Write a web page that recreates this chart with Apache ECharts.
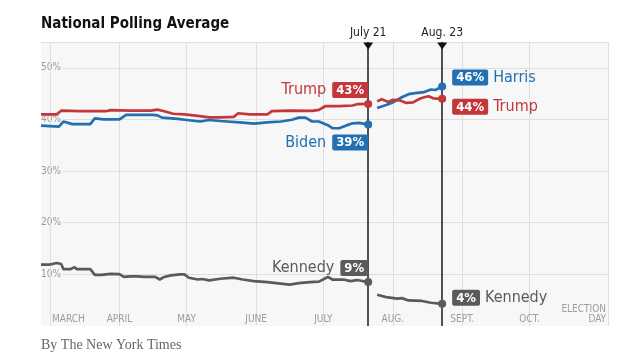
<!DOCTYPE html>
<html>
<head>
<meta charset="utf-8">
<script src="https://cdn.jsdelivr.net/npm/echarts@6/dist/echarts.min.js"></script>
<style>html,body{margin:0;padding:0;background:#fff}#c{width:640px;height:364px}</style>
</head>
<body>
<div id="c"></div>
<script>
// ---------- data ----------
const monthTicks = ['2024-03-01','2024-04-01','2024-05-01','2024-06-01','2024-07-01','2024-08-01','2024-09-01','2024-10-01','2024-11-05'];
const monthLabels = ['MARCH','APRIL','MAY','JUNE','JULY','AUG.','SEPT.','OCT.','ELECTION\nDAY'];
const yTicks = [10, 20, 30, 40, 50];
const eventDates = ['2024-07-21', '2024-08-23'];
const eventLabels = ['July 21', 'Aug. 23'];

const trumpBefore = [
  ['2024-02-26',41.0],['2024-03-04',41.0],['2024-03-06',41.7],['2024-03-14',41.6],['2024-03-26',41.6],
  ['2024-03-28',41.8],['2024-04-06',41.7],['2024-04-15',41.7],['2024-04-18',41.9],['2024-04-21',41.6],
  ['2024-04-25',41.1],['2024-04-30',41.0],['2024-05-06',40.7],['2024-05-11',40.4],['2024-05-16',40.4],
  ['2024-05-22',40.5],['2024-05-24',41.2],['2024-05-29',41.0],['2024-06-06',41.0],['2024-06-08',41.6],
  ['2024-06-16',41.7],['2024-06-26',41.65],['2024-06-29',41.85],['2024-07-02',42.6],['2024-07-08',42.6],
  ['2024-07-14',42.7],['2024-07-16',42.95],['2024-07-21',43.0]
];
const bidenBefore = [
  ['2024-02-26',38.8],['2024-03-05',38.6],['2024-03-07',39.6],['2024-03-11',39.1],['2024-03-19',39.1],
  ['2024-03-21',40.2],['2024-03-25',40.0],['2024-04-01',40.0],['2024-04-04',40.9],['2024-04-10',40.9],
  ['2024-04-16',40.9],['2024-04-18',40.8],['2024-04-20',40.35],['2024-04-27',40.1],['2024-05-01',39.9],
  ['2024-05-07',39.6],['2024-05-11',39.9],['2024-05-16',39.7],['2024-05-26',39.4],['2024-05-31',39.2],
  ['2024-06-06',39.45],['2024-06-12',39.6],['2024-06-17',39.95],['2024-06-20',40.35],['2024-06-23',40.35],
  ['2024-06-26',39.6],['2024-06-29',39.6],['2024-07-03',38.9],['2024-07-05',38.3],['2024-07-08',38.3],
  ['2024-07-11',38.8],['2024-07-14',39.25],['2024-07-17',39.35],['2024-07-21',39.0]
];
const kennedyBefore = [
  ['2024-02-26',11.9],['2024-03-01',11.9],['2024-03-04',12.2],['2024-03-06',12.0],['2024-03-07',11.0],
  ['2024-03-10',11.0],['2024-03-12',11.4],['2024-03-13',11.0],['2024-03-19',11.0],['2024-03-21',9.9],
  ['2024-03-24',9.9],['2024-03-28',10.1],['2024-04-01',10.05],['2024-04-03',9.5],['2024-04-06',9.6],
  ['2024-04-09',9.6],['2024-04-12',9.5],['2024-04-17',9.5],['2024-04-19',9.0],['2024-04-21',9.5],
  ['2024-04-24',9.8],['2024-04-28',10.0],['2024-04-30',10.0],['2024-05-02',9.35],['2024-05-06',9.0],
  ['2024-05-08',9.1],['2024-05-11',8.85],['2024-05-16',9.15],['2024-05-22',9.35],['2024-05-26',9.0],
  ['2024-05-31',8.7],['2024-06-06',8.5],['2024-06-12',8.2],['2024-06-16',8.0],['2024-06-20',8.3],
  ['2024-06-25',8.5],['2024-06-29',8.6],['2024-07-03',9.5],['2024-07-05',9.0],['2024-07-10',9.0],
  ['2024-07-13',8.7],['2024-07-16',8.9],['2024-07-21',8.5]
];
const harrisAfter = [
  ['2024-07-25',42.2],['2024-07-29',42.8],['2024-08-01',43.3],['2024-08-03',43.8],['2024-08-05',44.3],
  ['2024-08-08',44.9],['2024-08-11',45.1],['2024-08-15',45.3],['2024-08-18',45.8],['2024-08-20',45.7],
  ['2024-08-23',46.4]
];
const trumpAfter = [
  ['2024-07-25',43.5],['2024-07-27',43.9],['2024-07-30',43.4],['2024-08-01',43.8],['2024-08-04',43.7],
  ['2024-08-07',43.2],['2024-08-10',43.3],['2024-08-13',44.0],['2024-08-15',44.3],['2024-08-17',44.5],
  ['2024-08-19',44.1],['2024-08-23',44.0]
];
const kennedyAfter = [
  ['2024-07-25',6.05],['2024-07-29',5.6],['2024-08-03',5.3],['2024-08-05',5.4],['2024-08-08',4.95],
  ['2024-08-11',4.9],['2024-08-14',4.85],['2024-08-18',4.5],['2024-08-23',4.3]
];

// ---------- helpers ----------
const ts = s => { const [y, m, d] = s.split('-').map(Number); return new Date(y, m - 1, d).getTime(); };
const pts = arr => arr.map(([d, v]) => [ts(d), v]);
const FONT = "'Liberation Sans Narrow','DejaVu Sans Condensed','Roboto Condensed',Roboto,sans-serif";
const RED = '#c3363a', BLUE = '#2270b1', GRAY = '#5a5a5a';

function lineSeries(arr, color) {
  return { type: 'line', data: pts(arr), showSymbol: false, silent: true, z: 3,
    lineStyle: { color, width: 2.7 }, itemStyle: { color } };
}
function endPoint(arr, name, color, side, dy) {
  const last = arr[arr.length - 1];
  const pct = Math.round(last[1]) + '%';
  return {
    value: [ts(last[0]), last[1]],
    itemStyle: { color, opacity: 1 },
    label: {
      show: true, position: side, distance: side === 'left' ? -4 : 6, offset: [0, dy],
      formatter: side === 'left' ? `{n|${name}}{b|${pct}}` : `{b|${pct}}{n|${name}}`,
      rich: {
        n: { color, fontSize: 16, fontWeight: 'normal', fontFamily: FONT,
             padding: side === 'left' ? [0, 6, 0, 0] : [0, 0, 0, 5] },
        b: { color: '#fff', backgroundColor: color, fontSize: 13, fontWeight: 'bold', fontFamily: FONT,
             padding: [2, 4, 1, 4], borderRadius: 2 }
      }
    }
  };
}

const chart = echarts.init(document.getElementById('c'), null, { renderer: 'canvas' });
chart.setOption({
  animation: false,
  title: [
    { text: 'National Polling Average', left: 41, top: 17, padding: 0,
      textStyle: { fontSize: 15, fontWeight: 'bold', color: '#121212', fontFamily: FONT } },
    { text: 'By The New York Times', left: 41, top: 338, padding: 0,
      textStyle: { fontSize: 14, fontWeight: 'normal', color: '#666', fontFamily: "'Liberation Serif','DejaVu Serif',serif" } }
  ],
  grid: { left: 41, right: 32, top: 42, bottom: 38, show: true, backgroundColor: '#f7f7f7', borderWidth: 0 },
  xAxis: {
    type: 'time', min: ts('2024-02-26'), max: ts('2024-11-05'),
    axisLine: { show: false }, axisTick: { show: false }, axisLabel: { show: false }, splitLine: { show: false }
  },
  yAxis: {
    type: 'value', min: 0, max: 55, interval: 10,
    axisLine: { show: false }, axisTick: { show: false },
    splitLine: { show: true, showMinLine: false, lineStyle: { color: '#dedede', width: 1 } },
    axisLabel: {
      inside: true, margin: 0, color: '#9a9a9a', fontSize: 10, fontFamily: FONT,
      backgroundColor: '#f7f7f7', padding: [0, 2, 0, 0],
      formatter: v => (yTicks.indexOf(v) >= 0 ? v + '%' : '')
    }
  },
  series: [
    // month gridlines + labels
    {
      type: 'scatter', silent: true, symbolSize: 1, itemStyle: { color: 'transparent' }, z: 1,
      data: monthTicks.map((d, i) => {
        const item = { value: [ts(d), 0], name: monthLabels[i] };
        if (i === 0) item.label = { align: 'left', offset: [2, 0] };
        if (i === monthTicks.length - 1) item.label = { align: 'right', offset: [-2, 0] };
        return item;
      }),
      label: { show: true, position: 'top', distance: 1, formatter: '{b}', color: '#858585', fontSize: 10,
               lineHeight: 10, fontFamily: FONT },
      markLine: { silent: true, symbol: 'none', z: 1, label: { show: false },
        lineStyle: { color: '#dedede', width: 1, type: 'solid' },
        data: monthTicks.map(d => ({ xAxis: ts(d) })) }
    },
    lineSeries(kennedyBefore, GRAY),
    lineSeries(kennedyAfter, GRAY),
    lineSeries(bidenBefore, BLUE),
    lineSeries(harrisAfter, BLUE),
    lineSeries(trumpBefore, RED),
    lineSeries(trumpAfter, RED),
    // event markers
    {
      type: 'scatter', silent: true, z: 6,
      symbol: 'triangle', symbolRotate: 180, symbolSize: [10, 7], symbolOffset: [0, 4],
      itemStyle: { color: '#111', opacity: 1 },
      data: eventDates.map((d, i) => ({ value: [ts(d), 55], name: eventLabels[i] })),
      label: { show: true, position: 'top', distance: 4, formatter: '{b}', color: '#222', fontSize: 12, fontFamily: FONT },
      markLine: { silent: true, symbol: 'none', z: 4, label: { show: false },
        lineStyle: { color: '#1a1a1a', width: 1.5, type: 'solid' },
        data: eventDates.map(d => ({ xAxis: ts(d) })) }
    },
    // end points with labels
    {
      type: 'scatter', silent: true, z: 7, symbolSize: 8, itemStyle: { opacity: 1 },
      data: [
        endPoint(trumpBefore, 'Trump', RED, 'left', -14),
        endPoint(bidenBefore, 'Biden', BLUE, 'left', 18),
        endPoint(kennedyBefore, 'Kennedy', GRAY, 'left', -14),
        endPoint(harrisAfter, 'Harris', BLUE, 'right', -9),
        endPoint(trumpAfter, 'Trump', RED, 'right', 8),
        endPoint(kennedyAfter, 'Kennedy', GRAY, 'right', -6)
      ]
    }
  ]
});
</script>
</body>
</html>
